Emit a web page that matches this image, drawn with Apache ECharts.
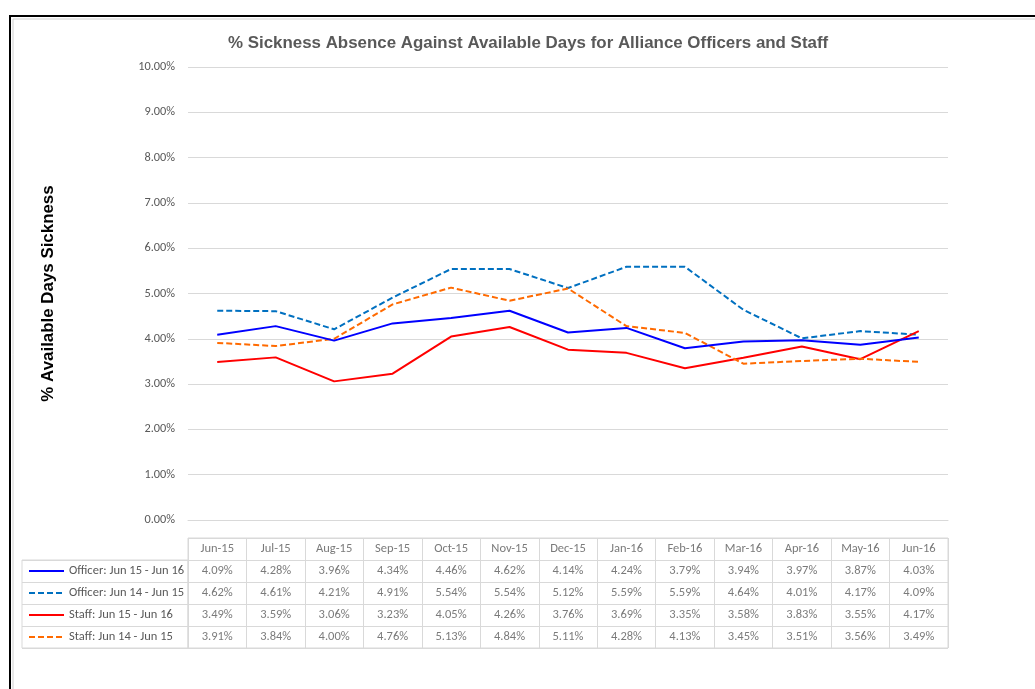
<!DOCTYPE html>
<html>
<head>
<meta charset="utf-8">
<script src="https://cdn.jsdelivr.net/npm/echarts@6/dist/echarts.min.js"></script>
<style>
  html, body { margin: 0; padding: 0; background: #fff; }
  #chart { width: 1035px; height: 689px; }
</style>
</head>
<body>
<div id="chart"></div>
<script>
// months on the x axis and in the table header
const months = ['Jun-15', 'Jul-15', 'Aug-15', 'Sep-15', 'Oct-15', 'Nov-15', 'Dec-15',
    'Jan-16', 'Feb-16', 'Mar-16', 'Apr-16', 'May-16', 'Jun-16'];
const seriesNames = ['Officer: Jun 15 - Jun 16', 'Officer: Jun 14 - Jun 15',
    'Staff: Jun 15 - Jun 16', 'Staff: Jun 14 - Jun 15'];
// % sickness, one array per line
const officer1516 = [4.09, 4.28, 3.96, 4.34, 4.46, 4.62, 4.14, 4.24, 3.79, 3.94, 3.97, 3.87, 4.03];
const officer1415 = [4.62, 4.61, 4.21, 4.91, 5.54, 5.54, 5.12, 5.59, 5.59, 4.64, 4.01, 4.17, 4.09];
const staff1516 = [3.49, 3.59, 3.06, 3.23, 4.05, 4.26, 3.76, 3.69, 3.35, 3.58, 3.83, 3.55, 4.17];
const staff1415 = [3.91, 3.84, 4.00, 4.76, 5.13, 4.84, 5.11, 4.28, 4.13, 3.45, 3.51, 3.56, 3.49];
// y axis ticks: 0% .. 10%, step 1
const yMin = 0, yMax = 10, yStep = 1;

const allSeries = [officer1516, officer1415, staff1516, staff1415];
const lineColors = ['#0000ff', '#0070c0', '#ff0000', '#ff6a00'];
const lineTypes = ['solid', [6, 3], 'solid', [6, 3]];

const gridColor = '#d9d9d9';
const textColor = '#595959';
const bodyFont = 'Carlito, Calibri, Lato, sans-serif';
const headFont = 'Arial, "Liberation Sans", sans-serif';

function pct(v) {
    return v.toFixed(2) + '%';
}

// table cells: header row plus one row per series
const tableRows = ['header'].concat(seriesNames);
const tableCells = [];
months.forEach(function (m, i) {
    tableCells.push([i, 'header', m]);
});
allSeries.forEach(function (arr, s) {
    arr.forEach(function (v, i) {
        tableCells.push([i, seriesNames[s], pct(v)]);
    });
});

const lineSeries = allSeries.map(function (arr, s) {
    return {
        name: seriesNames[s],
        type: 'line',
        xAxisIndex: 0,
        yAxisIndex: 0,
        data: arr,
        symbol: 'none',
        color: lineColors[s],
        lineStyle: { width: 2, color: lineColors[s], type: lineTypes[s] },
        z: s === 0 ? 6 : 5
    };
});

let option = {
    animation: false,
    backgroundColor: '#fff',
    title: {
        text: '% Sickness Absence Against Available Days for Alliance Officers and Staff',
        left: 223,
        top: 30,
        textStyle: {
            fontFamily: headFont,
            fontWeight: 'bold',
            fontSize: 16.9,
            color: textColor
        }
    },
    legend: {
        data: seriesNames,
        orient: 'vertical',
        left: 28,
        top: 564,
        padding: 0,
        itemGap: 8,
        itemWidth: 35,
        itemHeight: 14,
        selectedMode: false,
        itemStyle: { opacity: 0 },
        textStyle: { fontFamily: bodyFont, fontSize: 12.5, color: textColor, lineHeight: 14 }
    },
    grid: [
        // plot
        { left: 188, right: 87, top: 67, bottom: 169 },
        // data table
        { left: 188, right: 87, top: 538, height: 110, show: true, borderColor: gridColor, borderWidth: 1 },
        // row label column
        { left: 22, width: 166, top: 560, height: 88, show: true, borderColor: gridColor, borderWidth: 1 }
    ],
    xAxis: [
        {
            gridIndex: 0,
            type: 'category',
            data: months,
            boundaryGap: true,
            axisLine: { show: true, lineStyle: { color: gridColor } },
            axisTick: { show: false },
            axisLabel: { show: false }
        },
        {
            gridIndex: 1,
            type: 'category',
            data: months,
            boundaryGap: true,
            axisLine: { show: false },
            axisTick: { show: false },
            axisLabel: { show: false },
            splitLine: { show: true, interval: 0, lineStyle: { color: gridColor } }
        },
        {
            gridIndex: 2,
            type: 'value',
            min: 0,
            max: 1,
            show: false
        }
    ],
    yAxis: [
        {
            gridIndex: 0,
            type: 'value',
            min: yMin,
            max: yMax,
            interval: yStep,
            name: '% Available Days Sickness',
            nameLocation: 'middle',
            nameGap: 131,
            nameTextStyle: {
                fontFamily: headFont,
                fontWeight: 'bold',
                fontSize: 16.9,
                color: '#000'
            },
            axisLine: { show: false },
            axisTick: { show: false },
            axisLabel: {
                margin: 13,
                color: textColor,
                fontFamily: bodyFont,
                fontSize: 12.3,
                formatter: function (v) { return pct(v); }
            },
            splitLine: { lineStyle: { color: gridColor } }
        },
        {
            gridIndex: 1,
            type: 'category',
            data: tableRows,
            inverse: true,
            axisLine: { show: false },
            axisTick: { show: false },
            axisLabel: { show: false },
            splitLine: { show: true, interval: 0, lineStyle: { color: gridColor } }
        },
        {
            gridIndex: 2,
            type: 'category',
            data: seriesNames,
            inverse: true,
            axisLine: { show: false },
            axisTick: { show: false },
            axisLabel: { show: false },
            splitLine: { show: true, interval: 0, lineStyle: { color: gridColor } }
        }
    ],
    graphic: [
        {
            type: 'rect',
            shape: { x: 10, y: 16, width: 1100, height: 760 },
            style: { fill: 'none', stroke: '#000', lineWidth: 2 },
            silent: true
        },
        {
            type: 'rect',
            shape: { x: 13, y: 19, width: 1100, height: 760 },
            style: { fill: 'none', stroke: '#d0d0d0', lineWidth: 1 },
            silent: true
        }
    ],
    series: lineSeries.concat([
        {
            name: 'table',
            type: 'scatter',
            xAxisIndex: 1,
            yAxisIndex: 1,
            data: tableCells,
            symbol: 'rect',
            symbolSize: 1,
            itemStyle: { color: 'transparent' },
            silent: true,
            label: {
                show: true,
                position: 'inside',
                color: textColor,
                fontFamily: bodyFont,
                fontSize: 12.5,
                formatter: function (p) { return p.data[2]; }
            }
        }
    ])
};

let chart = echarts.init(document.getElementById('chart'));
chart.setOption(option);
</script>
</body>
</html>
